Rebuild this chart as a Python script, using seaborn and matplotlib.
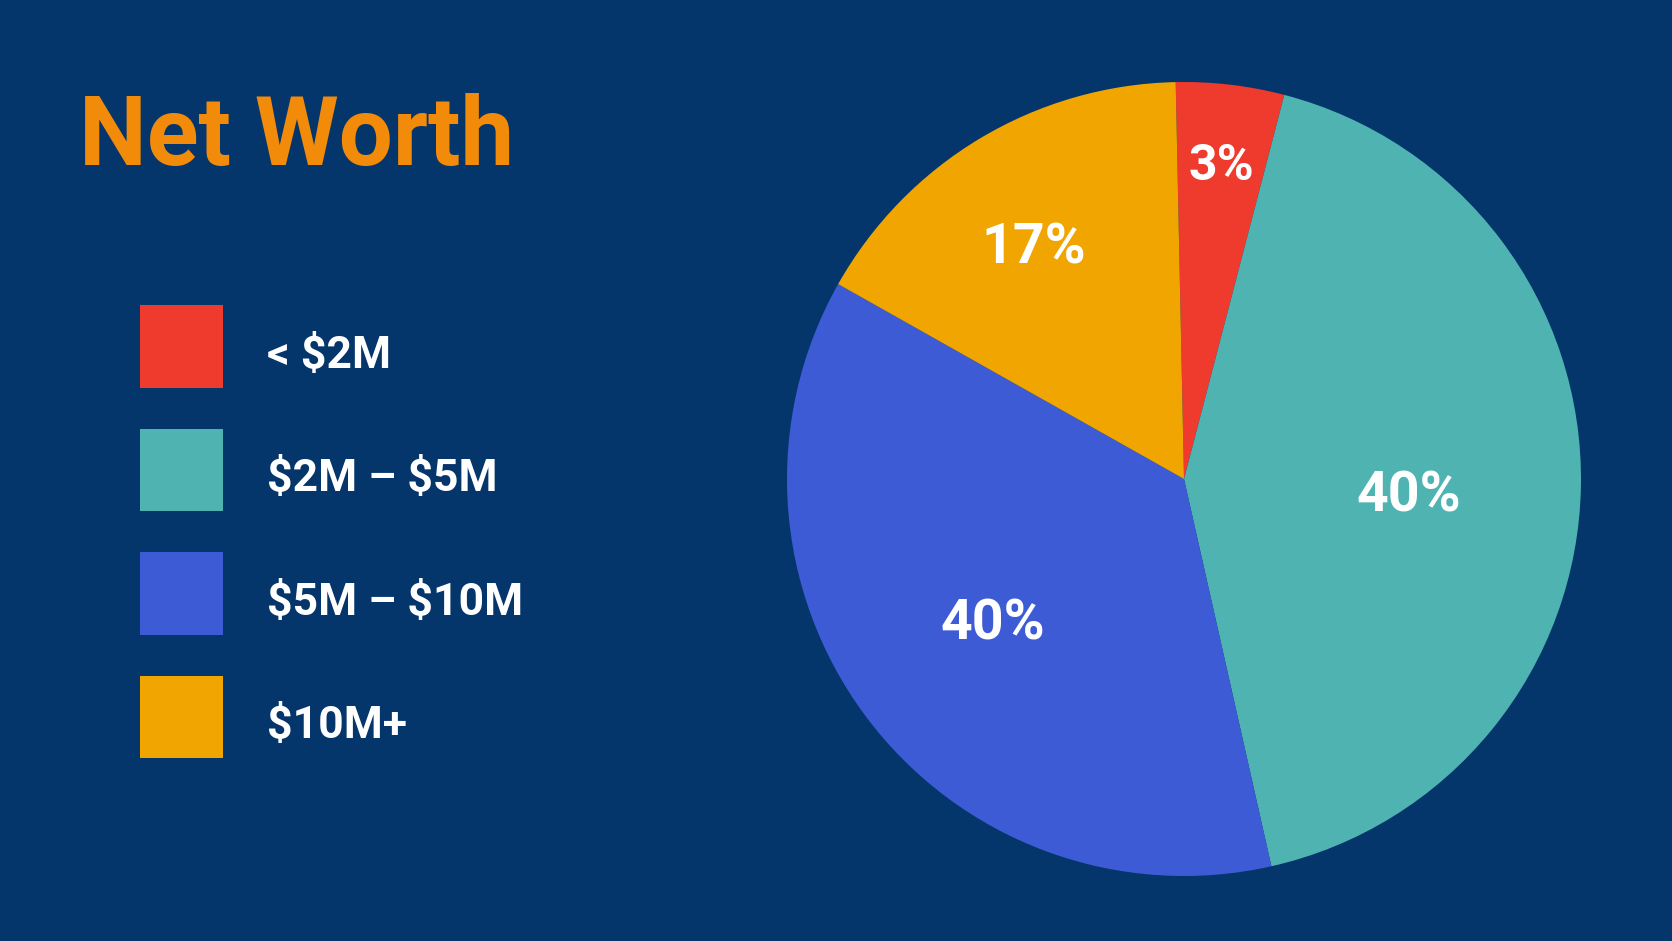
import numpy as np
import matplotlib
matplotlib.use("Agg")
import matplotlib.pyplot as plt
from matplotlib.patches import Patch
import seaborn as sns

# ---- data ----
categories = ["< $2M", "$2M – $5M", "$5M – $10M", "$10M+"]
shares = [4.4, 42.4, 36.7, 16.5]          # slice sizes as drawn
share_labels = ["3%", "40%", "40%", "17%"]  # printed labels
title = "Net Worth"

# ---- style ----
BG = "#04356B"
colors = ["#EF3A2E", "#4FB3B1", "#3E5BD6", "#F0A500"]
label_r = [0.8045, 0.5676, 0.599, 0.704]
label_dtheta = [0.0, 2.16, 0.34, -1.7]     # clockwise tweak, degrees
label_fs = [36, 40, 40, 40]

sns.set_theme(style="white", rc={"figure.facecolor": BG, "axes.facecolor": BG,
                                  "savefig.facecolor": BG})
plt.rcParams["font.family"] = ["Roboto", "DejaVu Sans"]
plt.rcParams["text.parse_math"] = False

W, H = 1672, 941
fig = plt.figure(figsize=(W / 100, H / 100), dpi=100)
fig.patch.set_facecolor(BG)

# pie axes
cx, cy, R = 1184, 479, 397
ax = fig.add_axes([(cx - R) / W, (H - cy - R) / H, 2 * R / W, 2 * R / H])
ax.set_facecolor(BG)
wedges, _ = ax.pie(shares, colors=colors, startangle=91.2, counterclock=False,
                   radius=1.0, wedgeprops=dict(linewidth=0))
ax.set_xlim(-1, 1)
ax.set_ylim(-1, 1)
ax.set_aspect("equal")
ax.axis("off")

for w, lab, r, dt, fs_l in zip(wedges, share_labels, label_r, label_dtheta, label_fs):
    th = np.deg2rad((w.theta1 + w.theta2) / 2 - dt)
    half_cap = 0.711 * fs_l * 100 / 72 / 2 / R
    ax.text(r * np.cos(th), r * np.sin(th) - half_cap, lab, ha="center",
            va="baseline", color="white", fontsize=fs_l, fontweight="bold")

# title
fig.text(79 / W, 1 - 165 / H, title, ha="left", va="baseline",
         color="#F28A0A", fontsize=69, fontweight="bold")

# legend
handles = [Patch(facecolor=c, edgecolor="none") for c in colors]
fs = 32
leg = fig.legend(handles, categories, loc="upper left",
                 bbox_to_anchor=(140 / W, 1 - 305 / H),
                 bbox_transform=fig.transFigure,
                 frameon=False, borderpad=0, borderaxespad=0,
                 handlelength=1.859, handleheight=2.483, handletextpad=0.99,
                 labelspacing=0.92, labelcolor="white",
                 prop={"weight": "bold", "size": fs, "family": ["Roboto", "DejaVu Sans"]})
for t in leg.get_texts():
    t.set_y(-8)

fig.savefig("out.png", dpi=100, facecolor=BG)
